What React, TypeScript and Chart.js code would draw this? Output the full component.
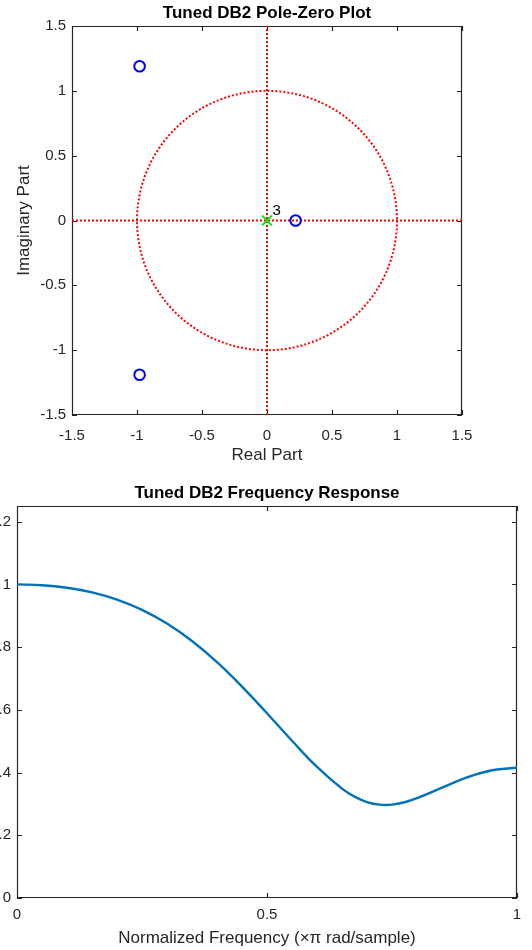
import React, { useEffect, useRef } from 'react';
import { Chart, registerables } from 'chart.js';

Chart.register(...registerables);

// ---- Pole-zero data ----
const ZERO_RE = [-0.98, -0.98, 0.22];
const ZERO_IM = [1.19, -1.19, 0];
const POLE_RE = [0];
const POLE_IM = [0];
const POLE_LABEL = '3';
const PZ_TICKS = [-1.5, -1, -0.5, 0, 0.5, 1, 1.5];
const AXIS_SPAN = [-1.5, 1.5];
const UNIT_CIRCLE_R = 1;

// ---- Frequency response data ----
const FREQ = [0, 0.05, 0.1, 0.15, 0.2, 0.25, 0.3, 0.35, 0.4, 0.45, 0.5, 0.55, 0.6, 0.65, 0.675, 0.7, 0.725, 0.75, 0.775, 0.8, 0.85, 0.9, 0.95, 1];
const MAG = [1.0, 0.9975, 0.9894, 0.9747, 0.9518, 0.919, 0.8751, 0.8193, 0.7519, 0.6742, 0.5892, 0.5014, 0.4178, 0.3486, 0.3232, 0.3059, 0.2976, 0.2978, 0.3054, 0.3183, 0.352, 0.3845, 0.4072, 0.4152];
const FREQ_TICKS = [0, 0.5, 1];
const MAG_TICKS = [0, 0.2, 0.4, 0.6, 0.8, 1, 1.2];

const TEXT = '#262626';
const FONT = "'Liberation Sans', Arial, Helvetica, sans-serif";
const TICK_SIZE = 15;
const LABEL_SIZE = 17;

const fmt = (v: number) => String(Math.round(Number(v) * 100) / 100);

const boxPlugin = {
  id: 'matlabBox',
  beforeDatasetsDraw(chart: any) {
    const { ctx, chartArea: a, scales } = chart;
    const x = scales.x;
    const y = scales.y;
    const L = 5;
    ctx.save();
    ctx.strokeStyle = TEXT;
    ctx.lineWidth = 1.2;
    ctx.beginPath();
    ctx.rect(a.left + 0.5, a.top + 0.5, a.right - a.left - 1, a.bottom - a.top - 1);
    for (const t of x.ticks) {
      const px = Math.round(x.getPixelForValue(t.value)) + 0.5;
      ctx.moveTo(px, a.bottom);
      ctx.lineTo(px, a.bottom - L);
      ctx.moveTo(px, a.top);
      ctx.lineTo(px, a.top + L);
    }
    for (const t of y.ticks) {
      const py = Math.round(y.getPixelForValue(t.value)) + 0.5;
      ctx.moveTo(a.left, py);
      ctx.lineTo(a.left + L, py);
      ctx.moveTo(a.right, py);
      ctx.lineTo(a.right - L, py);
    }
    ctx.stroke();
    ctx.restore();
  },
};

const unitCirclePlugin = {
  id: 'unitCircle',
  beforeDatasetsDraw(chart: any) {
    const { ctx, scales } = chart;
    const x = scales.x;
    const y = scales.y;
    const cx = x.getPixelForValue(0);
    const cy = y.getPixelForValue(0);
    const rx = Math.abs(x.getPixelForValue(UNIT_CIRCLE_R) - cx);
    const ry = Math.abs(y.getPixelForValue(UNIT_CIRCLE_R) - cy);
    ctx.save();
    ctx.strokeStyle = '#FF0000';
    ctx.lineWidth = 2;
    ctx.setLineDash([2, 2]);
    ctx.beginPath();
    ctx.ellipse(cx, cy, rx, ry, 0, 0, Math.PI * 2);
    ctx.stroke();
    ctx.restore();
  },
  afterDatasetsDraw(chart: any) {
    const { ctx, scales } = chart;
    const px = scales.x.getPixelForValue(POLE_RE[0]);
    const py = scales.y.getPixelForValue(POLE_IM[0]);
    ctx.save();
    ctx.fillStyle = '#000';
    ctx.font = `15px ${FONT}`;
    ctx.textAlign = 'left';
    ctx.textBaseline = 'middle';
    ctx.fillText(POLE_LABEL, px + 5.5, py - 9.5);
    ctx.restore();
  },
};

export default function App() {
  const topRef = useRef<HTMLCanvasElement>(null);
  const botRef = useRef<HTMLCanvasElement>(null);

  useEffect(() => {
    const tickFont = { family: FONT, size: TICK_SIZE };
    const labelFont = { family: FONT, size: LABEL_SIZE };

    const pz = new Chart(topRef.current as HTMLCanvasElement, {
      type: 'scatter',
      data: {
        datasets: [
          {
            label: 'Zeros',
            data: ZERO_RE.map((re, i) => ({ x: re, y: ZERO_IM[i] })),
            pointStyle: 'circle',
            pointRadius: 5.3,
            borderColor: '#0000FF',
            backgroundColor: 'rgba(0,0,0,0)',
            borderWidth: 2,
            order: 0,
          },
          {
            label: 'Poles',
            data: POLE_RE.map((re, i) => ({ x: re, y: POLE_IM[i] })),
            pointStyle: 'crossRot',
            pointRadius: 7,
            borderColor: '#22DD22',
            backgroundColor: '#22DD22',
            borderWidth: 2,
            order: 0,
          },
          {
            label: 'Real axis',
            data: AXIS_SPAN.map((v) => ({ x: v, y: 0 })),
            showLine: true,
            pointRadius: 0,
            borderColor: '#FF0000',
            borderWidth: 2,
            borderDash: [2, 2],
            order: 1,
          },
          {
            label: 'Imag axis',
            data: AXIS_SPAN.map((v) => ({ x: 0, y: v })),
            showLine: true,
            pointRadius: 0,
            borderColor: '#FF0000',
            borderWidth: 2,
            borderDash: [2, 2],
            order: 1,
          },
        ],
      } as any,
      options: {
        responsive: false,
        animation: false,
        devicePixelRatio: 1,
        events: [],
        layout: { padding: { left: 0, right: 70, top: 0, bottom: 0 } },
        plugins: {
          legend: { display: false },
          tooltip: { enabled: false },
          title: {
            display: true,
            text: 'Tuned DB2 Pole-Zero Plot',
            color: '#000',
            fullSize: false,
            font: { family: FONT, size: LABEL_SIZE, weight: 'bold' },
            padding: { top: 3.4, bottom: 2.2 },
          },
        },
        scales: {
          x: {
            type: 'linear',
            min: AXIS_SPAN[0],
            max: AXIS_SPAN[1],
            afterBuildTicks: (s: any) => {
              s.ticks = PZ_TICKS.map((value) => ({ value }));
            },
            afterFit: (s: any) => {
              s.height = 55;
            },
            grid: { display: false, drawTicks: false, tickLength: 0 },
            border: { display: false },
            ticks: {
              color: TEXT,
              font: tickFont,
              padding: 12,
              maxRotation: 0,
              autoSkip: false,
              callback: (v: any) => fmt(v),
            },
            title: {
              display: true,
              text: 'Real Part',
              color: TEXT,
              font: labelFont,
              padding: { top: 0, bottom: 4.8 },
            },
          },
          y: {
            type: 'linear',
            min: AXIS_SPAN[0],
            max: AXIS_SPAN[1],
            afterBuildTicks: (s: any) => {
              s.ticks = PZ_TICKS.map((value) => ({ value }));
            },
            afterFit: (s: any) => {
              s.width = 72;
            },
            grid: { display: false, drawTicks: false, tickLength: 0 },
            border: { display: false },
            ticks: {
              color: TEXT,
              font: tickFont,
              padding: 6,
              autoSkip: false,
              callback: (v: any) => fmt(v),
            },
            title: {
              display: true,
              text: 'Imaginary Part',
              color: TEXT,
              font: labelFont,
              padding: { top: 13.8, bottom: 0 },
            },
          },
        },
      } as any,
      plugins: [boxPlugin, unitCirclePlugin],
    });

    const fr = new Chart(botRef.current as HTMLCanvasElement, {
      type: 'line',
      data: {
        datasets: [
          {
            label: 'Magnitude',
            data: FREQ.map((f, i) => ({ x: f, y: MAG[i] })),
            borderColor: '#0072BD',
            borderWidth: 2.4,
            pointRadius: 0,
            tension: 0.4,
            fill: false,
          },
        ],
      } as any,
      options: {
        responsive: false,
        animation: false,
        devicePixelRatio: 1,
        events: [],
        layout: { padding: { left: 0, right: 15, top: 0, bottom: 0 } },
        plugins: {
          legend: { display: false },
          tooltip: { enabled: false },
          title: {
            display: true,
            text: 'Tuned DB2 Frequency Response',
            color: '#000',
            fullSize: false,
            font: { family: FONT, size: LABEL_SIZE, weight: 'bold' },
            padding: { top: 12.8, bottom: 2.8 },
          },
        },
        scales: {
          x: {
            type: 'linear',
            min: 0,
            max: 1,
            afterBuildTicks: (s: any) => {
              s.ticks = FREQ_TICKS.map((value) => ({ value }));
            },
            afterFit: (s: any) => {
              s.height = 52;
            },
            grid: { display: false, drawTicks: false, tickLength: 0 },
            border: { display: false },
            ticks: {
              color: TEXT,
              font: tickFont,
              padding: 8,
              maxRotation: 0,
              autoSkip: false,
              callback: (v: any) => fmt(v),
            },
            title: {
              display: true,
              text: 'Normalized Frequency (\u00D7\u03C0 rad/sample)',
              color: TEXT,
              font: labelFont,
              padding: { top: 0, bottom: 1.8 },
            },
          },
          y: {
            type: 'linear',
            min: 0,
            max: 1.25,
            afterBuildTicks: (s: any) => {
              s.ticks = MAG_TICKS.map((value) => ({ value }));
            },
            afterFit: (s: any) => {
              s.width = 17;
            },
            grid: { display: false, drawTicks: false, tickLength: 0 },
            border: { display: false },
            ticks: {
              color: TEXT,
              font: tickFont,
              padding: 6,
              autoSkip: false,
              callback: (v: any) => fmt(v),
            },
          },
        },
      } as any,
      plugins: [boxPlugin],
    });

    return () => {
      pz.destroy();
      fr.destroy();
    };
  }, []);

  return (
    <div
      style={{
        position: 'absolute',
        left: 0,
        top: 0,
        width: 532,
        height: 950,
        overflow: 'hidden',
        background: '#ffffff',
      }}
    >
      <canvas
        ref={topRef}
        width={532}
        height={470}
        style={{ position: 'absolute', left: 0, top: 0, width: 532, height: 470, display: 'block' }}
      />
      <canvas
        ref={botRef}
        width={532}
        height={480}
        style={{ position: 'absolute', left: 0, top: 470, width: 532, height: 480, display: 'block' }}
      />
    </div>
  );
}
